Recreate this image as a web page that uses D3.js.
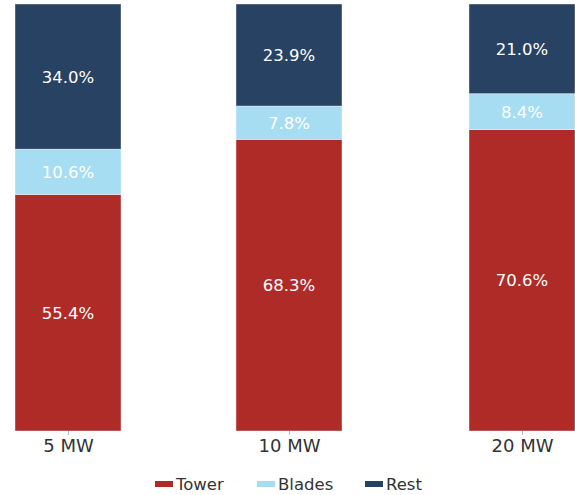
<!DOCTYPE html>
<html>
<head>
<meta charset="utf-8">
<script src="https://cdn.jsdelivr.net/npm/d3@7"></script>
<style>
  html, body { margin: 0; padding: 0; background: #fff; }
  svg { display: block; font-family: "DejaVu Sans", sans-serif; }
</style>
</head>
<body>
<svg id="chart" width="575" height="495"></svg>
<script>
const categories = ["5 MW", "10 MW", "20 MW"];
const seriesNames = ["Tower", "Blades", "Rest"];
const tower = [55.4, 68.3, 70.6];
const blades = [10.6, 7.8, 8.4];
const rest = [34.0, 23.9, 21.0];
const colors = ["#af2b27", "#a6ddf2", "#284263"];

const rows = categories.map((c, i) => ({ cat: c, Tower: tower[i], Blades: blades[i], Rest: rest[i] }));
const stack = d3.stack().keys(seriesNames)(rows);

const svg = d3.select("#chart");
const barW = 106;
// piecewise linear scale over category index (centres)
const xi = d3.scaleLinear().domain([0, 1, 2]).range([68, 289, 522]);
const xc = c => xi(categories.indexOf(c));
const y = d3.scaleLinear().domain([0, 100]).range([431, 4]);
const color = d3.scaleOrdinal().domain(seriesNames).range(colors);

const layers = svg.append("g").selectAll("g").data(stack).join("g")
  .attr("fill", d => color(d.key));

layers.selectAll("rect").data(d => d).join("rect")
  .attr("x", d => xc(d.data.cat) - barW / 2)
  .attr("width", barW)
  .attr("y", d => y(d[1]))
  .attr("height", d => y(d[0]) - y(d[1]))
  .attr("stroke", "#ffffff")
  .attr("stroke-opacity", 0.5)
  .attr("stroke-width", 0.8);

layers.selectAll("text").data(d => d).join("text")
  .attr("x", d => xc(d.data.cat))
  .attr("y", d => (y(d[0]) + y(d[1])) / 2)
  .attr("dy", "0.36em")
  .attr("text-anchor", "middle")
  .attr("fill", "#ffffff")
  .attr("font-size", "16.5px")
  .text(d => (d[1] - d[0]).toFixed(1) + "%");

const axis = svg.append("g").attr("transform", "translate(0,431)")
  .call(d3.axisBottom(xi).tickValues([0, 1, 2]).tickFormat(i => categories[i]).tickSize(4).tickPadding(4));
axis.select(".domain").remove();
axis.selectAll(".tick line").attr("stroke", "#bbbbbb");
axis.selectAll(".tick text").attr("fill", "#333333").attr("font-size", "18px")
  .attr("font-family", "DejaVu Sans, sans-serif");

const legendX = [155, 257, 365];
const legend = svg.append("g").selectAll("g").data(seriesNames).join("g")
  .attr("transform", (d, i) => `translate(${legendX[i]},484)`);
legend.append("rect").attr("x", 0).attr("y", -3).attr("width", 18).attr("height", 6)
  .attr("fill", d => color(d));
legend.append("text").attr("x", 21).attr("y", 0).attr("dy", "0.36em")
  .attr("fill", "#333333").attr("font-size", "16.5px").text(d => d);
</script>
</body>
</html>
